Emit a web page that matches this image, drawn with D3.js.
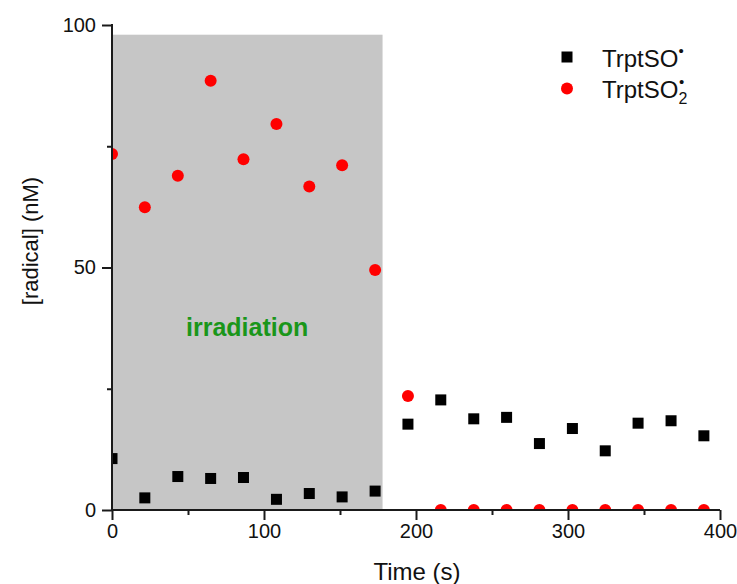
<!DOCTYPE html>
<html>
<head>
  <meta charset="utf-8">
  <title>Radical concentration vs time</title>
  <script src="https://cdnjs.cloudflare.com/ajax/libs/d3/7.8.5/d3.min.js"></script>
  <style>
    body { margin: 0; background: #fff; }
    text { font-family: "Liberation Sans", Arial, sans-serif; fill: #111; }
  </style>
</head>
<body>
  <div id="viz"></div>
  <script>
    // measurement times (s)
    var times = [0, 21.6, 43.3, 64.9, 86.5, 108.2, 129.8, 151.4, 173.1, 194.7,
                 216.3, 238.0, 259.6, 281.2, 302.9, 324.5, 346.1, 367.8, 389.4];
    // TrptSO• (black squares)
    var soValues = [10.6, 2.5, 6.9, 6.5, 6.7, 2.2, 3.4, 2.7, 3.9, 17.7,
                    22.7, 18.8, 19.1, 13.7, 16.8, 12.2, 17.9, 18.4, 15.3];
    // TrptSO2• (red circles)
    var so2Values = [73.4, 62.4, 68.9, 88.5, 72.3, 79.6, 66.7, 71.1, 49.5, 23.5,
                     0, 0, 0, 0, 0, 0, 0, 0, 0];
    // irradiation window: start, end (s) and top (nM)
    var irradiation = [0, 178, 98];
    var xMajor = [0, 100, 200, 300, 400], xMinor = [50, 150, 250, 350];
    var yMajor = [0, 50, 100], yMinor = [25, 75];

    var width = 737, height = 584;
    var plotLeft = 112, plotRight = 720, plotTop = 25, plotBottom = 510;

    var svg = d3.select("#viz").append("svg")
        .attr("width", width)
        .attr("height", height);

    var x = d3.scaleLinear().domain([0, 400]).range([plotLeft, plotRight]);
    var y = d3.scaleLinear().domain([0, 100]).range([plotBottom, plotTop]);

    svg.append("clipPath").attr("id", "plotclip")
      .append("rect")
        .attr("x", plotLeft).attr("y", plotTop)
        .attr("width", plotRight - plotLeft).attr("height", plotBottom - plotTop);

    // irradiation shading
    svg.append("rect")
        .attr("x", x(irradiation[0]))
        .attr("y", y(irradiation[2]))
        .attr("width", x(irradiation[1]) - x(irradiation[0]))
        .attr("height", y(0) - y(irradiation[2]))
        .style("fill", "#c6c6c6");

    svg.append("text")
        .attr("x", 186)
        .attr("y", 336)
        .style("font-size", "25px")
        .style("font-weight", "bold")
        .style("fill", "#1a961a")
        .text("irradiation");

    var rows = times.map(function (t, i) {
      return { t: t, so: soValues[i], so2: so2Values[i] };
    });

    var plot = svg.append("g").attr("clip-path", "url(#plotclip)");
    var sq = 11;

    plot.selectAll("rect.so")
      .data(rows)
      .enter().append("rect")
        .attr("class", "so")
        .attr("x", function (d) { return x(d.t) - sq / 2; })
        .attr("y", function (d) { return y(d.so) - sq / 2; })
        .attr("width", sq).attr("height", sq)
        .style("fill", "#000");

    plot.selectAll("circle.so2")
      .data(rows)
      .enter().append("circle")
        .attr("class", "so2")
        .attr("cx", function (d) { return x(d.t); })
        .attr("cy", function (d) { return y(d.so2); })
        .attr("r", 6)
        .style("fill", "#ff0000");

    // axes
    function styleAxis(g) {
      g.attr("font-size", 20).attr("font-family", null);
      g.selectAll("path, line").style("stroke", "#1a1a1a").style("stroke-width", 2);
      g.selectAll("text").style("font-size", "20px").style("fill", "#111");
    }

    var gx = svg.append("g").attr("transform", "translate(0," + plotBottom + ")")
        .call(d3.axisBottom(x).tickValues(xMajor).tickSize(10).tickSizeOuter(0).tickPadding(4))
        .call(styleAxis);
    gx.select(".domain").attr("d", "M" + (plotLeft - 1) + ",0H" + plotRight);
    svg.append("g").attr("transform", "translate(0," + plotBottom + ")")
        .call(d3.axisBottom(x).tickValues(xMinor).tickSize(5).tickFormat(""))
        .call(styleAxis)
        .select(".domain").remove();

    var gy = svg.append("g").attr("transform", "translate(" + plotLeft + ",0)")
        .call(d3.axisLeft(y).tickValues(yMajor).tickSize(10).tickSizeOuter(0).tickPadding(6))
        .call(styleAxis);
    gy.select(".domain").attr("d", "M0," + (plotBottom + 1) + "V" + (plotTop - 1));
    svg.append("g").attr("transform", "translate(" + plotLeft + ",0)")
        .call(d3.axisLeft(y).tickValues(yMinor).tickSize(5).tickFormat(""))
        .call(styleAxis)
        .select(".domain").remove();

    // axis titles
    svg.append("text")
        .attr("x", (plotLeft + plotRight) / 2 + 1)
        .attr("y", 580)
        .style("text-anchor", "middle")
        .style("font-size", "24px")
        .text("Time (s)");

    svg.append("text")
        .attr("transform", "translate(38,241) rotate(-90)")
        .style("text-anchor", "middle")
        .style("font-size", "22px")
        .text("[radical] (nM)");

    // legend
    var lx = 567, tx = 602;
    svg.append("rect")
        .attr("x", lx - sq / 2).attr("y", 57 - sq / 2)
        .attr("width", sq).attr("height", sq)
        .style("fill", "#000");
    svg.append("circle")
        .attr("cx", lx).attr("cy", 88.5).attr("r", 6)
        .style("fill", "#ff0000");

    var t1 = svg.append("text").attr("x", tx).attr("y", 66.5).style("font-size", "24px");
    t1.append("tspan").text("TrptSO");
    t1.append("tspan").attr("dy", -11).style("font-size", "15px").text("\u2022");

    var t2 = svg.append("text").attr("x", tx).attr("y", 98).style("font-size", "24px");
    var base = t2.append("tspan").text("TrptSO");
    var w = base.node().getComputedTextLength();
    t2.append("tspan").attr("dy", 6).style("font-size", "16px").text("2");
    svg.append("text")
        .attr("x", tx + w + 0.5)
        .attr("y", 87)
        .style("font-size", "15px")
        .text("\u2022");
  </script>
</body>
</html>
